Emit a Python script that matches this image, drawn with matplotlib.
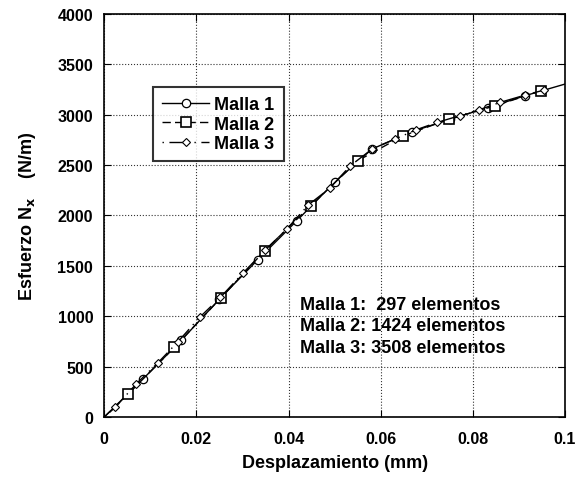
import matplotlib
matplotlib.use('Agg')
import matplotlib.pyplot as plt

# Data (displacement in mm, force in N/m)
malla1_x = [0, 0.0084, 0.0167, 0.025, 0.0333, 0.0418, 0.05, 0.0581, 0.0667, 0.075, 0.0833, 0.0913, 0.1]
malla1_y = [0, 377, 760, 1170, 1560, 1948, 2330, 2659, 2830, 2955, 3070, 3188, 3304]

malla2_x = [0, 0.0052, 0.0152, 0.0253, 0.0348, 0.0448, 0.055, 0.0649, 0.0749, 0.0848, 0.0948]
malla2_y = [0, 228, 691, 1181, 1650, 2096, 2543, 2791, 2956, 3088, 3237]

malla3_x = [0, 0.0024, 0.0069, 0.0116, 0.016, 0.0207, 0.0252, 0.0301, 0.0349, 0.0396, 0.0443,
            0.0489, 0.0534, 0.0582, 0.0631, 0.0677, 0.0722, 0.0771, 0.0814, 0.0859, 0.0913, 0.0955]
malla3_y = [0, 96, 327, 536, 747, 989, 1187, 1428, 1655, 1865, 2105,
            2269, 2493, 2662, 2758, 2850, 2923, 2989, 3049, 3122, 3194, 3245]

info_lines = ['Malla 1:  297 elementos', 'Malla 2: 1424 elementos', 'Malla 3: 3508 elementos']
info_y = [1121, 903, 694]

plt.rcParams['font.family'] = ['Liberation Sans', 'DejaVu Sans']
plt.rcParams['font.weight'] = 'bold'
plt.rcParams['mathtext.default'] = 'bf'

fig = plt.figure(figsize=(5.76, 4.81), dpi=100)
ax = fig.add_axes([0.181, 0.131, 0.8, 0.838])

ax.plot(malla1_x, malla1_y, color='black', lw=1.0, ls='-', marker='o', ms=6,
        mfc='white', mec='black', mew=0.9, markevery=slice(1, -1), label='Malla 1')
ax.plot(malla2_x, malla2_y, color='black', lw=1.0, ls=(0, (6, 3)), marker='s', ms=7,
        mfc='white', mec='black', mew=1.2, markevery=slice(1, None), label='Malla 2')
ax.plot(malla3_x, malla3_y, color='black', lw=1.0, ls=(0, (1, 4, 14, 4)), marker='D', ms=4.5,
        mfc='white', mec='black', mew=0.8, markevery=slice(1, None), label='Malla 3')

ax.set_xlim(0, 0.1)
ax.set_ylim(0, 4000)
ax.set_xticks([0, 0.02, 0.04, 0.06, 0.08, 0.1])
ax.set_xticklabels(['0', '0.02', '0.04', '0.06', '0.08', '0.1'])
ax.set_yticks(range(0, 4001, 500))
ax.tick_params(direction='in', top=True, right=True, length=5, labelsize=11.5)
ax.tick_params(axis='x', pad=10)
ax.tick_params(axis='y', pad=8)
for lab in ax.get_xticklabels() + ax.get_yticklabels():
    lab.set_fontweight('bold')
ax.grid(True, ls=':', color='black', lw=0.8, alpha=0.8)
for s in ax.spines.values():
    s.set_linewidth(1.2)

ax.set_xlabel('Desplazamiento (mm)', fontsize=13, fontweight='bold', labelpad=6)
ax.set_ylabel(r'Esfuerzo N$_{x}$    (N/m)', fontsize=13, fontweight='bold', labelpad=14)

leg = ax.legend(loc='upper left', bbox_to_anchor=(0.106, 0.819), borderaxespad=0,
                prop={'weight': 'bold', 'size': 13}, frameon=True, fancybox=False,
                edgecolor='black', handlelength=2.6, handletextpad=0.3,
                borderpad=0.5, labelspacing=0.15)
leg.get_frame().set_linewidth(1.5)

for t, yy in zip(info_lines, info_y):
    ax.text(0.0425, yy, t, fontsize=13, fontweight='bold', va='center', ha='left')

fig.savefig('out.png', dpi=100)
